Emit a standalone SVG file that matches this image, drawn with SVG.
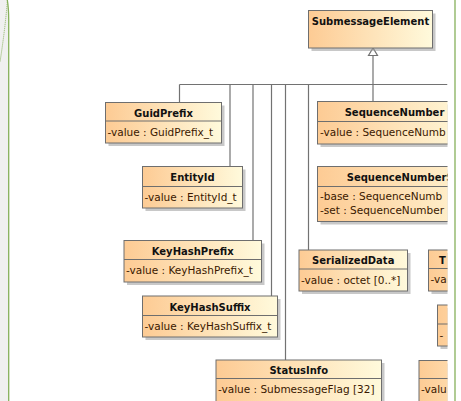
<svg xmlns="http://www.w3.org/2000/svg" width="461" height="401" viewBox="0 0 461 401">
  <style>
    .box { fill: url(#grad); stroke: #6e6e6e; stroke-width: 1; }
    .shadow { fill: #9a9a9a; opacity: 0.55; }
    .div { stroke: #6e6e6e; stroke-width: 1; }
    .name { font-family: "DejaVu Sans", "Liberation Sans", sans-serif; font-size: 10px; font-weight: bold; fill: #111; text-anchor: middle; }
    .attr { font-family: "DejaVu Sans", "Liberation Sans", sans-serif; font-size: 10.5px; fill: #3a1800; }
    .conn { stroke: #727272; stroke-width: 1.2; fill: none; }
  </style>
  <defs>
    <linearGradient id="grad" x1="0" y1="0" x2="1" y2="0">
      <stop offset="0" stop-color="#fdcb94"/>
      <stop offset="1" stop-color="#fffadc"/>
    </linearGradient>
    <clipPath id="clip">
      <rect x="0" y="0" width="447.5" height="401"/>
    </clipPath>
  </defs>

  <!-- background / frame -->
  <rect x="0" y="0" width="461" height="401" fill="#ffffff"/>
  <path d="M0 0 L7.5 0 Q8.5 10 8.5 20 L8.5 401 L0 401 Z" fill="#f0f0f0"/>
  <path d="M7.3 0 Q8.7 8 8.7 20 L8.7 401" fill="none" stroke="#86b05a" stroke-width="1.3"/>
  <path d="M7.5 0 Q5 30 0 62" fill="none" stroke="#86b05a" stroke-width="1" stroke-dasharray="1,1"/>
  <line x1="455" y1="0" x2="455" y2="401" stroke="#86b05a" stroke-width="1.3"/>

  <g clip-path="url(#clip)">
    <g id="connectors">
      <line class="conn" x1="179.5" y1="84.5" x2="447.5" y2="84.5"/>
      <line class="conn" x1="179.5" y1="84.5" x2="179.5" y2="102.5"/>
      <line class="conn" x1="230" y1="84.5" x2="230" y2="166.5"/>
      <line class="conn" x1="253" y1="84.5" x2="253" y2="240.5"/>
      <line class="conn" x1="271.5" y1="84.5" x2="271.5" y2="296"/>
      <line class="conn" x1="285.5" y1="84.5" x2="285.5" y2="360"/>
      <line class="conn" x1="308.5" y1="84.5" x2="308.5" y2="250"/>
      <line class="conn" x1="373" y1="55" x2="373" y2="101.5"/>
      <polygon points="373,48 368.5,55.5 377.5,55.5" fill="#ffffff" stroke="#727272" stroke-width="1.2"/>
    </g>

    <g id="SubmessageElement">
      <rect class="shadow" x="311.5" y="13.5" width="124" height="37.5"/>
      <rect class="box" x="308.5" y="10.5" width="124" height="37.5"/>
      <text class="name" x="370.5" y="24.5">SubmessageElement</text>
    </g>

    <g id="GuidPrefix">
      <rect class="shadow" x="108.5" y="105.5" width="116" height="40.5"/>
      <rect class="box" x="105.5" y="102.5" width="116" height="40.5"/>
      <line class="div" x1="105.5" y1="121" x2="221.5" y2="121"/>
      <text class="name" x="163.5" y="116.5">GuidPrefix</text>
      <text class="attr" x="107.5" y="135.5">-value : GuidPrefix_t</text>
    </g>

    <g id="EntityId">
      <rect class="shadow" x="145.5" y="169.5" width="100" height="41.5"/>
      <rect class="box" x="142.5" y="166.5" width="100" height="41.5"/>
      <line class="div" x1="142.5" y1="186.5" x2="242.5" y2="186.5"/>
      <text class="name" x="192.5" y="181">EntityId</text>
      <text class="attr" x="144.5" y="201">-value : EntityId_t</text>
    </g>

    <g id="KeyHashPrefix">
      <rect class="shadow" x="127" y="243.5" width="137.5" height="41.5"/>
      <rect class="box" x="124" y="240.5" width="137.5" height="41.5"/>
      <line class="div" x1="124" y1="259.5" x2="261.5" y2="259.5"/>
      <text class="name" x="192.75" y="255">KeyHashPrefix</text>
      <text class="attr" x="126" y="274">-value : KeyHashPrefix_t</text>
    </g>

    <g id="KeyHashSuffix">
      <rect class="shadow" x="145.5" y="299" width="135" height="41"/>
      <rect class="box" x="142.5" y="296" width="135" height="41"/>
      <line class="div" x1="142.5" y1="315.5" x2="277.5" y2="315.5"/>
      <text class="name" x="210" y="310.5">KeyHashSuffix</text>
      <text class="attr" x="144.5" y="330">-value : KeyHashSuffix_t</text>
    </g>

    <g id="StatusInfo">
      <rect class="shadow" x="219" y="363" width="165.5" height="50"/>
      <rect class="box" x="216" y="360" width="165.5" height="50"/>
      <line class="div" x1="216" y1="378.5" x2="381.5" y2="378.5"/>
      <text class="name" x="298.75" y="374">StatusInfo</text>
      <text class="attr" x="218" y="393">-value : SubmessageFlag [32]</text>
    </g>

    <g id="SerializedData">
      <rect class="shadow" x="302" y="253" width="108.5" height="41"/>
      <rect class="box" x="299" y="250" width="108.5" height="41"/>
      <line class="div" x1="299" y1="269" x2="407.5" y2="269"/>
      <text class="name" x="353.25" y="264">SerializedData</text>
      <text class="attr" x="301" y="283.5">-value : octet [0..*]</text>
    </g>

    <g id="SequenceNumber">
      <rect class="shadow" x="320.5" y="104.5" width="154" height="42.5"/>
      <rect class="box" x="317.5" y="101.5" width="154" height="42.5"/>
      <line class="div" x1="317.5" y1="121.5" x2="471.5" y2="121.5"/>
      <text class="name" x="394.5" y="116">SequenceNumber</text>
      <text class="attr" x="320" y="136">-value : SequenceNumb</text>
    </g>

    <g id="SequenceNumberSet">
      <rect class="shadow" x="320.5" y="169.5" width="180" height="55"/>
      <rect class="box" x="317.5" y="166.5" width="180" height="55"/>
      <line class="div" x1="317.5" y1="186.5" x2="497.5" y2="186.5"/>
      <text class="name" x="346.7" y="181" style="text-anchor:start">SequenceNumberS</text>
      <text class="attr" x="320" y="200">-base : SequenceNumb</text>
      <text class="attr" x="320" y="213.5">-set : SequenceNumber</text>
    </g>

    <g id="TNode">
      <rect class="shadow" x="431.5" y="253" width="100" height="41"/>
      <rect class="box" x="428.5" y="250" width="100" height="41"/>
      <line class="div" x1="428.5" y1="268.5" x2="528.5" y2="268.5"/>
      <text class="name" x="439" y="264" style="text-anchor:start">T</text>
      <text class="attr" x="430.5" y="283">-va</text>
    </g>

    <g id="Node11">
      <rect class="shadow" x="440.5" y="308" width="100" height="41"/>
      <rect class="box" x="437.5" y="305" width="100" height="41"/>
      <line class="div" x1="437.5" y1="324" x2="537.5" y2="324"/>
      <text class="attr" x="439.5" y="338.5">-</text>
    </g>

    <g id="Node12">
      <rect class="shadow" x="422" y="363.5" width="100" height="50"/>
      <rect class="box" x="419" y="360.5" width="100" height="50"/>
      <line class="div" x1="419" y1="378.5" x2="519" y2="378.5"/>
      <text class="attr" x="421" y="393">-valu</text>
    </g>
  </g>
</svg>
